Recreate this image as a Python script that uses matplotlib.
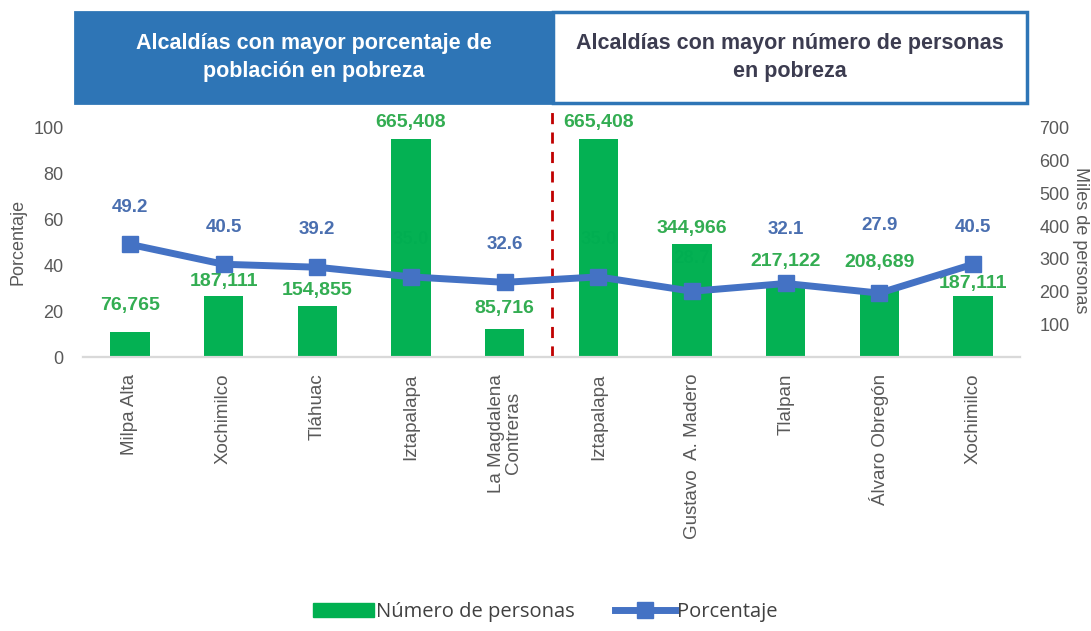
import matplotlib.pyplot as plt
from matplotlib.patches import Rectangle
from matplotlib.lines import Line2D
from matplotlib.patches import Patch

alcaldias = ["Milpa Alta", "Xochimilco", "Tláhuac", "Iztapalapa", "La Magdalena\nContreras",
             "Iztapalapa", "Gustavo  A. Madero", "Tlalpan", "Álvaro Obregón", "Xochimilco"]
personas = [76765, 187111, 154855, 665408, 85716, 665408, 344966, 217122, 208689, 187111]
porcentaje = [49.2, 40.5, 39.2, 35.0, 32.6, 35.0, 28.7, 32.1, 27.9, 40.5]
titulo_izq = "Alcaldías con mayor porcentaje de\npoblación en pobreza"
titulo_der = "Alcaldías con mayor número de personas\nen pobreza"

# label offsets in pixels above the mark (layout only)
off_bar = [26, 14, 16, 17, 20, 17, 16, 24, 26, 12]
off_pct = [37, 37, 38, 37, 38, 37, 33, 54, 68, 37]

verde = "#00b050"
verde_txt = "#33ad52"
azul = "#4472c4"
azul_txt = "#4a6fb0"
gris = "#595959"
sans = ["Liberation Sans", "DejaVu Sans"]

plt.rcParams['font.family'] = sans

fig = plt.figure(figsize=(10.91, 6.31), dpi=100)
ax = fig.add_axes([83 / 1091, 1 - 357 / 631, (1020 - 83) / 1091, (357 - 128) / 631])
ax2 = ax.twinx()
ax3 = ax.twinx()

x = list(range(len(alcaldias)))
miles = [p / 1000 for p in personas]

# percent labels on bottom axes, so the bars cover them like in the original
ax.set_ylim(0, 100)
ax.set_xlim(-0.5, len(x) - 0.5)
for i, v in enumerate(porcentaje):
    ax.annotate(f"{v:.1f}", (i, v), xytext=(0, off_pct[i] * 0.72), textcoords="offset points",
                ha="center", va="center", color=azul_txt, fontsize=13.5, fontweight="bold",
                annotation_clip=False)

ax2.bar(x, miles, width=0.42, color=verde, alpha=0.985, zorder=2)
ax2.set_ylim(0, 700)
for i, v in enumerate(miles):
    ax2.annotate(f"{personas[i]:,}", (i, v), xytext=(0, off_bar[i] * 0.72), textcoords="offset points",
                 ha="center", va="center", color=verde_txt, fontsize=14, fontweight="bold",
                 annotation_clip=False)

ax3.set_ylim(0, 100)
ax3.plot(x, porcentaje, color=azul, lw=5, marker="s", markersize=11, zorder=3)
ax3.axvline(4.5, ymin=0, ymax=1.08, color="#c00000", lw=2, ls=(0, (4, 3)), clip_on=False)
ax3.set_yticks([])

for a in (ax, ax2, ax3):
    for s in ("top", "left", "right"):
        a.spines[s].set_visible(False)
    a.spines["bottom"].set_color("#d9d9d9")
    a.spines["bottom"].set_linewidth(1.5)
    a.tick_params(length=0)

ax.set_yticks([0, 20, 40, 60, 80, 100])
ax.tick_params(axis="y", labelsize=13, labelcolor=gris, pad=14)
ax.set_xticks(x)
ax.set_xticklabels(alcaldias, rotation=90, fontsize=13.5, color=gris, va="top", linespacing=1.0)
ax.tick_params(axis="x", pad=12)
ax2.set_yticks([100, 200, 300, 400, 500, 600, 700])
ax2.tick_params(axis="y", labelsize=13, labelcolor=gris, pad=14)

fig.text(18 / 1091, 1 - 242 / 631, "Porcentaje", rotation=90, ha="center", va="center",
         fontsize=13, color=gris)
fig.text(1080 / 1091, 1 - 240 / 631, "Miles de personas", rotation=270, ha="center", va="center",
         fontsize=13, color=gris)

# header boxes
bx0, bx1, bx2 = 75 / 1091, 553 / 1091, 1027 / 1091
by0, by1 = 1 - 103 / 631, 1 - 12 / 631
fig.patches.append(Rectangle((bx0, by0), bx1 - bx0, by1 - by0, transform=fig.transFigure,
                             facecolor="#2e75b6", edgecolor="#2e75b6", lw=2))
fig.patches.append(Rectangle((bx1, by0), bx2 - bx1, by1 - by0, transform=fig.transFigure,
                             facecolor="white", edgecolor="#2e75b6", lw=2.5))
fig.text((bx0 + bx1) / 2, (by0 + by1) / 2, titulo_izq, ha="center", va="center", color="white",
         fontsize=15.5, fontweight="bold", linespacing=1.45)
fig.text((bx1 + bx2) / 2, (by0 + by1) / 2, titulo_der, ha="center", va="center", color="#3c3c50",
         fontsize=15.5, fontweight="bold", linespacing=1.45)

handles = [Patch(facecolor=verde, edgecolor=verde),
           Line2D([0], [0], color=azul, lw=5, marker="s", markersize=11)]
fig.legend(handles, ["Número de personas", "Porcentaje"], loc="center", bbox_to_anchor=(0.5, 0.03),
           ncol=2, frameon=False, handlelength=3.0, handletextpad=0.1, columnspacing=2.0,
           prop={"family": ["Open Sans", "DejaVu Sans"], "size": 14.5}, labelcolor="#404040")

fig.savefig("out.png", dpi=100)
